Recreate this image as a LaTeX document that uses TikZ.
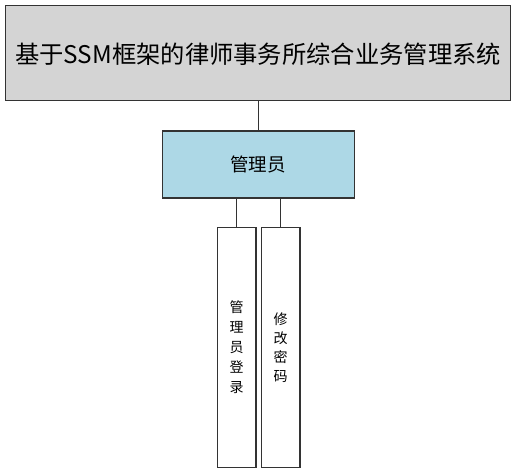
\documentclass[tikz,border=0pt]{standalone}
\usepackage{fontspec}
\newfontfamily\cjk{Noto Sans CJK SC}
\begin{document}
\begin{tikzpicture}[x=1pt,y=-1pt,
  box/.style={draw=black!80,line width=1.2pt,inner sep=0pt,anchor=north west},
  conn/.style={draw=black!80,line width=1.2pt}]
\useasboundingbox (0,0) rectangle (515,473);
\node[box,fill=black!17,minimum width=505pt,minimum height=95pt] (top) at (5,5) {};
\node[font=\cjk\fontsize{24.3}{28}\selectfont] (title) at ([yshift=-1pt]top.center) {基于SSM框架的律师事务所综合业务管理系统};
\node[box,fill={rgb,255:red,173;green,216;blue,230},minimum width=192pt,minimum height=67pt] (mid) at (161.5,130.5) {};
\node[font=\cjk\fontsize{18.5}{20}\selectfont] (midtext) at (mid.center) {管理员};
\node[box,minimum width=38.5pt,minimum height=240.5pt] (l) at (216.8,226.8) {};
\node[box,minimum width=38.5pt,minimum height=240.5pt] (r) at (260.8,226.8) {};
\node[font=\cjk\fontsize{14}{20}\selectfont,align=center] (ltext) at (l.center) {管\\理\\员\\登\\录};
\node[font=\cjk\fontsize{14}{19}\selectfont,align=center] (rtext) at (r.center) {修\\改\\密\\码};
\draw[conn] (top.south) -- (mid.north);
\draw[conn] (l.north) -- (l.north|-mid.south);
\draw[conn] (r.north) -- (r.north|-mid.south);
\end{tikzpicture}
\end{document}
